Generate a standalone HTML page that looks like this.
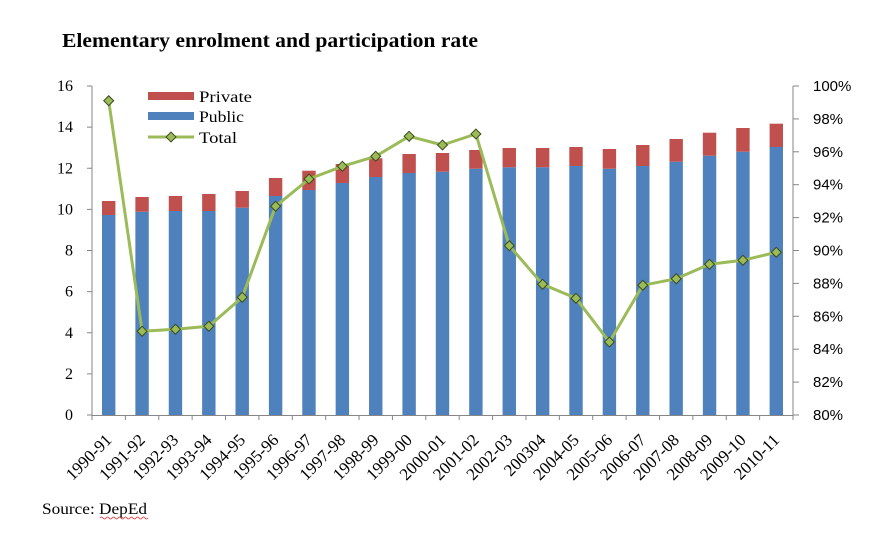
<!DOCTYPE html>
<html><head><meta charset="utf-8"><style>
html,body{margin:0;padding:0;background:#fff;}
svg{display:block;}
</style></head><body>
<svg width="894" height="546" xmlns="http://www.w3.org/2000/svg">
<rect width="894" height="546" fill="#fff"/>
<text x="62" y="47" font-family="Liberation Serif, serif" font-weight="bold" font-size="20" textLength="416" lengthAdjust="spacingAndGlyphs" fill="#000">Elementary enrolment and participation  rate</text>
<g id="bars"></g>
<g id="axes" stroke="#868686" stroke-width="1" fill="none">
<line x1="92" y1="86" x2="92" y2="415"/>
<line x1="793" y1="86" x2="793" y2="415"/>
<line x1="92" y1="415.5" x2="793" y2="415.5"/>
</g>
<g id="ticks" stroke="#868686" stroke-width="1"></g>
<g id="labels" font-family="Liberation Serif, serif" font-size="16" fill="#000"></g>
<g id="line"></g>
<g font-family="Liberation Serif, serif" font-size="16" fill="#000">
<rect x="148" y="92" width="46" height="8" fill="#c0504d"/>
<text x="199" y="102" textLength="53" lengthAdjust="spacingAndGlyphs">Private</text>
<rect x="148" y="112" width="46" height="8" fill="#4f81bd"/>
<text x="199" y="122" textLength="45" lengthAdjust="spacingAndGlyphs">Public</text>
<line x1="148" y1="137" x2="194" y2="137" stroke="#9bbb59" stroke-width="3"/>
<rect x="167.5" y="133.5" width="7" height="7" fill="#9bbb59" stroke="#3a4a1a" stroke-width="1" transform="rotate(45 171 137)"/>
<text x="199" y="143" textLength="38" lengthAdjust="spacingAndGlyphs">Total</text>
<text x="42" y="514" textLength="105" lengthAdjust="spacingAndGlyphs">Source: DepEd</text>
</g>
<path d="M100 518 q1.5 -2 3 0 t3 0 t3 0 t3 0 t3 0 t3 0 t3 0 t3 0 t3 0 t3 0 t3 0 t3 0 t3 0 t3 0 t3 0 t3 0" stroke="#e03030" stroke-width="0.8" fill="none"/>
<script>
var ns="http://www.w3.org/2000/svg";
function el(t,a,p){var e=document.createElementNS(ns,t);for(var k in a)e.setAttribute(k,a[k]);document.getElementById(p).appendChild(e);return e;}
var tot=[201,197,196,194,191,178,170.7,164,158.3,154,153,150,148,148,147,149,145,139,132.7,128,123.7];
var pub=[215,211.7,211,211,207.7,196,190,183,177,173,171.7,168.7,167.3,167.3,166,168.7,166,161.7,155.7,151.7,147];
var ln=[100.7,331.3,329.3,326.3,297.3,206.3,179,166.3,156.3,136.3,145,134,245.7,284.3,298.3,342,285.3,278.7,264.3,260.3,252.3];
var cats=["1990-91","1991-92","1992-93","1993-94","1994-95","1995-96","1996-97","1997-98","1998-99","1999-00","2000-01","2001-02","2002-03","200304","2004-05","2005-06","2006-07","2007-08","2008-09","2009-10","2010-11"];
var sp=701/21;
var pts=[];
for(var i=0;i<21;i++){
 var cx=92+sp*(i+0.5);
 el("rect",{x:cx-6.7,y:pub[i],width:13.4,height:415-pub[i],fill:"#4f81bd"},"bars");
 el("rect",{x:cx-6.7,y:tot[i],width:13.4,height:pub[i]-tot[i],fill:"#c0504d"},"bars");
 pts.push(cx.toFixed(1)+","+ln[i]);
 var ax=cx+4, ay=441;
 var t=el("text",{x:ax,y:ay,"text-anchor":"end","font-size":"17",transform:"rotate(-45 "+ax+" "+ay+")"},"labels");
 t.textContent=cats[i];
}
for(var i=0;i<=21;i++){var x=92+sp*i;el("line",{x1:x,y1:415,x2:x,y2:420},"ticks");}
for(var j=0;j<=8;j++){
 var y=415-j*329/8;
 el("line",{x1:87,y1:y,x2:92,y2:y},"ticks");
 var t=el("text",{x:73,y:y+5,"text-anchor":"end"},"labels");t.textContent=String(j*2);
}
for(var k=0;k<=10;k++){
 var y=415-k*32.9;
 el("line",{x1:793,y1:y,x2:799,y2:y},"ticks");
 var r=el("text",{x:813,y:y+5,"font-family":"Liberation Sans, sans-serif","font-size":"15"},"labels");r.textContent=(80+k*2)+"%";
}
el("polyline",{points:pts.join(" "),fill:"none",stroke:"#9bbb59","stroke-width":3,"stroke-linejoin":"round"},"line");
for(var i=0;i<21;i++){var p=pts[i].split(",");var x=+p[0],y=+p[1];
 el("rect",{x:x-3.5,y:y-3.5,width:7,height:7,fill:"#9bbb59",stroke:"#3a4a1a","stroke-width":1,transform:"rotate(45 "+x+" "+y+")"},"line");}
</script>
</svg>
</body></html>
